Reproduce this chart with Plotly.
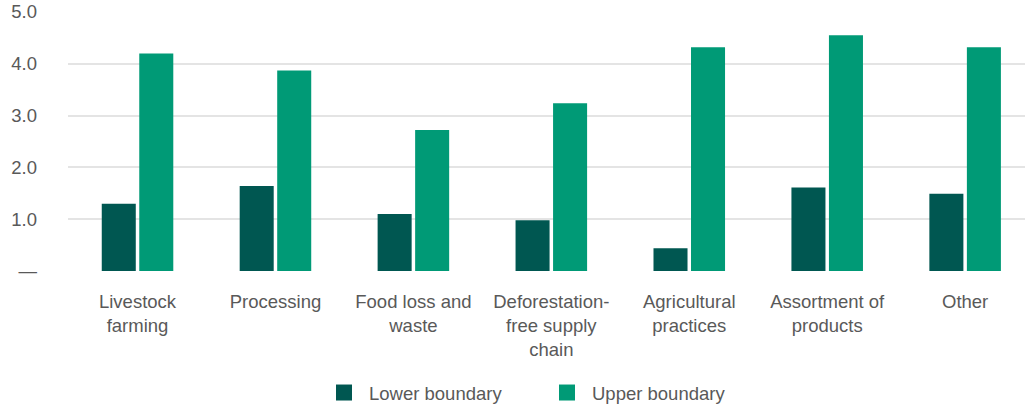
import plotly.graph_objects as go

categories = ["Livestock<br>farming", "Processing", "Food loss and<br>waste",
              "Deforestation-<br>free supply<br>chain", "Agricultural<br>practices",
              "Assortment of<br>products", "Other"]
lower = [1.3, 1.64, 1.1, 0.98, 0.44, 1.61, 1.49]
upper = [4.2, 3.87, 2.72, 3.24, 4.32, 4.55, 4.32]
series_names = ["Lower boundary", "Upper boundary"]
y_ticks = [0, 1, 2, 3, 4, 5]
y_tick_text = ["—", "1.0", "2.0", "3.0", "4.0", "5.0"]

DARK = "#005751"
GREEN = "#009A76"
TEXT = "#595959"
FS = 18.5

fig = go.Figure()
fig.add_trace(go.Bar(x=categories, y=lower, name=series_names[0], marker_color=DARK,
                     marker_line_width=0, showlegend=False))
fig.add_trace(go.Bar(x=categories, y=upper, name=series_names[1], marker_color=GREEN,
                     marker_line_width=0, showlegend=False))
for nm, col in zip(series_names, [DARK, GREEN]):
    fig.add_trace(go.Scatter(x=[None], y=[None], mode="markers", name=nm,
                             marker=dict(symbol="square", size=19, color=col)))

fig.update_layout(
    width=1025, height=406,
    margin=dict(l=68, r=0, t=12, b=135),
    paper_bgcolor="white", plot_bgcolor="white",
    font=dict(family="Liberation Sans, Arial, sans-serif", size=FS, color=TEXT),
    barmode="group", bargap=0.456, bargroupgap=0.093,
    legend=dict(orientation="h", xref="container", yref="container",
                x=319 / 1025, xanchor="left", y=1 - 393 / 406, yanchor="middle",
                font=dict(size=FS, color=TEXT), entrywidth=168, itemwidth=40),
)
fig.update_xaxes(range=[-0.504, 6.434], showgrid=False, zeroline=False, showline=False,
                 ticks="", tickfont=dict(size=FS, color=TEXT), ticklabelstandoff=17)
fig.update_yaxes(range=[0, 5], tickvals=y_ticks, ticktext=y_tick_text, showgrid=True,
                 gridcolor="#E4E4E4", gridwidth=1.5, zeroline=False, showline=False,
                 ticks="", tickfont=dict(size=FS, color=TEXT), ticklabelstandoff=30)

fig.write_html("out.html")
